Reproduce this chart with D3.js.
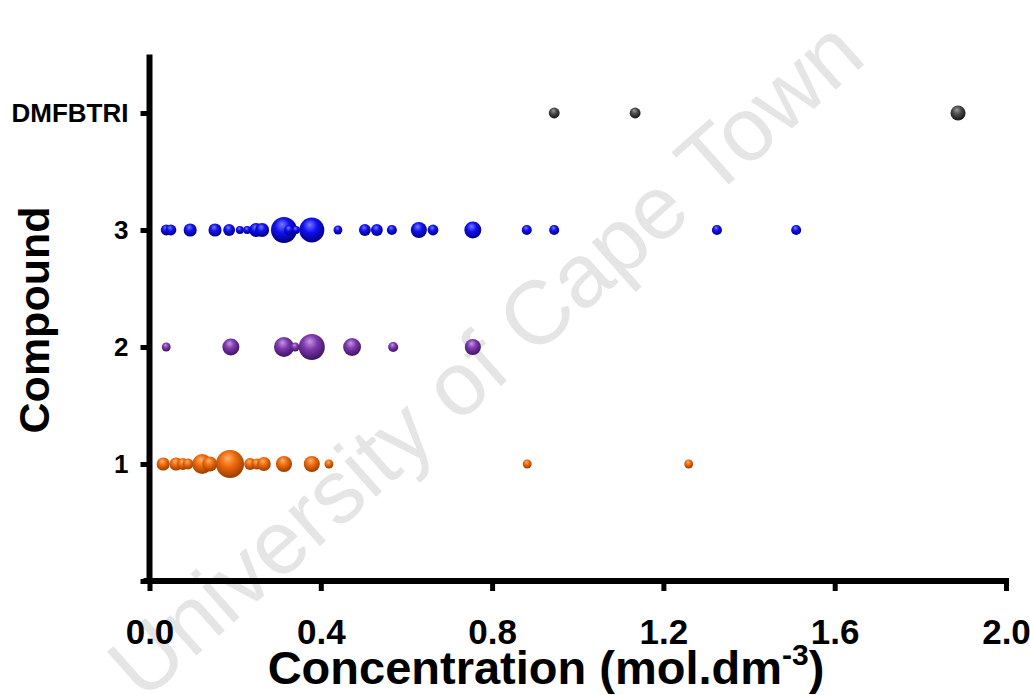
<!DOCTYPE html>
<html>
<head>
<meta charset="utf-8">
<script src="https://cdn.jsdelivr.net/npm/d3@7"></script>
<style>
  html, body { margin: 0; padding: 0; background: #fff; }
  svg { display: block; font-family: Arial, "Liberation Sans", sans-serif; }
</style>
</head>
<body>
<svg id="chart" width="1030" height="695"></svg>
<script>
// Compound rows on the y axis
const compounds = ["1", "2", "3", "DMFBTRI"];
const compoundLevels = [1, 2, 3, 4];

// Concentrations (mol.dm^-3) per compound, with relative bubble weights
const conc1 = [0.032, 0.062, 0.078, 0.090, 0.123, 0.141, 0.188, 0.235, 0.251, 0.267, 0.314, 0.379, 0.419, 0.882, 1.259];
const size1 = [22, 22, 18, 15, 51, 29, 100, 18, 15, 25, 33, 33, 10, 10, 10];

const conc2 = [0.039, 0.190, 0.314, 0.340, 0.379, 0.473, 0.569, 0.755];
const size2 = [10, 37, 51, 10, 86, 41, 13, 33];

const conc3 = [0.039, 0.050, 0.095, 0.153, 0.186, 0.211, 0.228, 0.249, 0.263, 0.314, 0.326, 0.342, 0.379, 0.440, 0.503, 0.531, 0.566, 0.629, 0.662, 0.755, 0.881, 0.945, 1.325, 1.510];
const size3 = [15, 15, 22, 22, 18, 8, 8, 25, 25, 86, 13, 8, 80, 10, 18, 18, 13, 33, 15, 37, 13, 13, 13, 13];

const conc4 = [0.945, 1.134, 1.888];
const size4 = [15, 15, 29];

// Axis ticks
const xTicks = [0.0, 0.4, 0.8, 1.2, 1.6, 2.0];
const yTicks = [0, 1, 2, 3, 4];

// Sphere colours: [highlight, base, shade]
const palette = {
  "1": ["#ffb26a", "#ee6a0c", "#9a3c00"],
  "2": ["#c596e6", "#7d38ad", "#3e1462"],
  "3": ["#7a7aff", "#1010f0", "#000080"],
  "DMFBTRI": ["#9a9a9a", "#4a4a4a", "#151515"]
};

const series = [
  { name: "1", level: 1, conc: conc1, size: size1 },
  { name: "2", level: 2, conc: conc2, size: size2 },
  { name: "3", level: 3, conc: conc3, size: size3 },
  { name: "DMFBTRI", level: 4, conc: conc4, size: size4 }
];

const svg = d3.select("#chart");
const x = d3.scaleLinear().domain([0, 2]).range([149.5, 1006]);
const y = d3.scaleLinear().domain([0, 4.5]).range([581, 54.5]);
const r = d3.scaleSqrt().domain([0, 100]).range([0, 14]);

// Faint watermark text behind the plot
svg.append("text")
  .attr("transform", "translate(490,364) rotate(-41.5)")
  .attr("text-anchor", "middle")
  .attr("dominant-baseline", "middle")
  .attr("font-family", "Arial, 'Liberation Sans', sans-serif")
  .attr("font-size", 90)
  .attr("fill", "#e5e5e5")
  .text("University of Cape Town");

// Radial gradients for the shaded spheres
const defs = svg.append("defs");
series.forEach((s, i) => {
  const g = defs.append("radialGradient")
    .attr("id", "sphere" + i)
    .attr("cx", "0.45").attr("cy", "0.38").attr("r", "0.62")
    .attr("fx", "0.42").attr("fy", "0.28");
  const c = palette[s.name];
  g.append("stop").attr("offset", "0%").attr("stop-color", c[0]);
  g.append("stop").attr("offset", "45%").attr("stop-color", c[1]);
  g.append("stop").attr("offset", "100%").attr("stop-color", c[2]);
});

// Bubbles
series.forEach((s, i) => {
  const pts = s.conc.map((v, j) => ({ v, w: s.size[j] }));
  svg.append("g")
    .selectAll("circle")
    .data(pts)
    .join("circle")
    .attr("cx", d => x(d.v))
    .attr("cy", y(s.level))
    .attr("r", d => r(d.w))
    .attr("fill", `url(#sphere${i})`);
});

// X axis
const xAxis = svg.append("g")
  .attr("transform", `translate(0,${y(0)})`)
  .call(d3.axisBottom(x).tickValues(xTicks).tickSize(10).tickSizeOuter(0).tickPadding(28)
    .tickFormat(d3.format(".1f")));
xAxis.select(".domain").attr("stroke", "#000").attr("stroke-width", 6)
  .attr("d", `M${x(0) - 6},0H${x(2) + 3}`);
xAxis.selectAll(".tick line").attr("stroke", "#000").attr("stroke-width", 5);
xAxis.selectAll(".tick text")
  .attr("font-family", "Arial, 'Liberation Sans', sans-serif")
  .attr("font-weight", "bold").attr("font-size", 35).attr("fill", "#000");

// Y axis
const yAxis = svg.append("g")
  .attr("transform", `translate(${x(0)},0)`)
  .call(d3.axisLeft(y).tickValues(yTicks).tickSize(9).tickSizeOuter(0).tickPadding(12)
    .tickFormat(d => d === 0 ? "" : compounds[compoundLevels.indexOf(d)]));
yAxis.select(".domain").attr("stroke", "#000").attr("stroke-width", 6)
  .attr("d", `M0,${y(0) + 3}V${y(4.5)}`);
yAxis.selectAll(".tick line").attr("stroke", "#000").attr("stroke-width", 5);
yAxis.selectAll(".tick text")
  .attr("font-family", "Arial, 'Liberation Sans', sans-serif")
  .attr("font-weight", "bold").attr("font-size", 26).attr("fill", "#000");

// Axis titles
const xTitle = svg.append("text")
  .attr("x", 546).attr("y", 684)
  .attr("text-anchor", "middle")
  .attr("font-weight", "bold").attr("font-size", 47).attr("fill", "#000");
xTitle.append("tspan").text("Concentration (mol.dm");
xTitle.append("tspan").attr("dy", -19).attr("font-size", 30).text("-3");
xTitle.append("tspan").attr("dy", 19).text(")");

svg.append("text")
  .attr("transform", "translate(49,320) rotate(-90)")
  .attr("text-anchor", "middle")
  .attr("font-weight", "bold").attr("font-size", 43).attr("fill", "#000")
  .text("Compound");
</script>
</body>
</html>
